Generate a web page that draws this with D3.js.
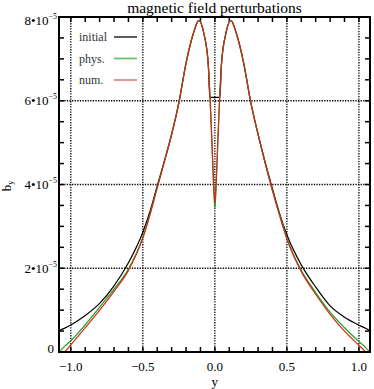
<!DOCTYPE html>
<html>
<head>
<meta charset="utf-8">
<script src="https://cdn.jsdelivr.net/npm/d3@7"></script>
<style>
body { margin: 0; background: #fff; }
text { font-family: "Liberation Serif", "DejaVu Serif", serif; }
</style>
</head>
<body>
<div id="container"></div>
<script>
const width = 374;
const height = 389;
const margin = { left: 59, right: 4, top: 17, bottom: 37 };

// y positions (x axis) shared by all series
const ys = [-1.08, -1.042, -1.0, -0.9, -0.8, -0.7, -0.6, -0.5, -0.45, -0.4, -0.35, -0.3, -0.25, -0.2, -0.15, -0.111,
    -0.076, -0.046, -0.035, -0.02, -0.01, 0, 0.01, 0.02, 0.035, 0.046, 0.076, 0.111, 0.15, 0.2, 0.25, 0.3, 0.35,
    0.4, 0.45, 0.5, 0.6, 0.7, 0.8, 0.9, 1.0, 1.049, 1.075];
// b_y in units of 1e-5
const initial = [0.51, 0.57, 0.645, 0.87, 1.16, 1.58, 2.13, 2.86, 3.36, 3.97, 4.57, 5.2, 5.95, 6.9, 7.6, 7.92,
    7.6, 6.88, 6.08, 6.08, 6.08, 6.08, 6.08, 6.08, 6.08, 6.88, 7.6, 7.92, 7.6, 6.9, 5.95, 5.2, 4.52,
    3.9, 3.3, 2.8, 2.08, 1.55, 1.1, 0.83, 0.64, 0.56, 0.51];
const phys = [0, 0.14, 0.27, 0.65, 1.07, 1.5, 1.98, 2.74, 3.3, 3.93, 4.55, 5.2, 5.95, 6.9, 7.6, 7.92,
    7.6, 6.88, 6.2, 4.95, 4.05, 3.42, 4.05, 4.95, 6.2, 6.88, 7.6, 7.92, 7.6, 6.9, 5.95, 5.2, 4.5,
    3.86, 3.27, 2.72, 1.95, 1.42, 0.95, 0.58, 0.25, 0.1, 0];
const num = [null, 0, 0.17, 0.58, 1.0, 1.45, 1.95, 2.72, 3.28, 3.92, 4.55, 5.2, 5.95, 6.9, 7.6, 7.92,
    7.6, 6.88, 6.2, 5.0, 4.15, 3.55, 4.15, 5.0, 6.2, 6.88, 7.6, 7.92, 7.6, 6.9, 5.95, 5.2, 4.5,
    3.85, 3.25, 2.7, 1.92, 1.38, 0.9, 0.5, 0.16, 0, null];

const xTicks = [-1.0, -0.5, 0.0, 0.5, 1.0];
const xTickLabels = ["\u22121.0", "\u22120.5", "0.0", "0.5", "1.0"];
const yTicks = [0, 2, 4, 6, 8];

const series = [
    { name: "initial", values: initial, color: "#000", legend: "#4a4a4a" },
    { name: "phys.", values: phys, color: "#1e9e1e", legend: "#66c266" },
    { name: "num.", values: num, color: "#d42a1a", legend: "#e48a84" },
];

const x = d3.scaleLinear().domain([-1.082, 1.077]).range([margin.left, width - margin.right]);
const y = d3.scaleLinear().domain([0, 8]).range([height - margin.bottom, margin.top]);

const svg = d3.select("#container")
    .append("svg")
    .attr("width", width)
    .attr("height", height);

svg.append("clipPath")
    .attr("id", "clip")
    .append("rect")
    .attr("x", x.range()[0])
    .attr("y", y.range()[1])
    .attr("width", x.range()[1] - x.range()[0])
    .attr("height", y.range()[0] - y.range()[1]);

// dotted grid
svg.append("g")
    .selectAll("line")
    .data(xTicks)
    .enter()
    .append("line")
    .attr("x1", (d) => x(d))
    .attr("x2", (d) => x(d))
    .attr("y1", y(0))
    .attr("y2", y(8))
    .attr("stroke", "#000")
    .attr("stroke-width", 1.3)
    .attr("stroke-dasharray", "1.3,1.3");
svg.append("g")
    .selectAll("line")
    .data(yTicks.filter((d) => d > 0 && d < 8))
    .enter()
    .append("line")
    .attr("x1", x.range()[0])
    .attr("x2", x.range()[1])
    .attr("y1", (d) => y(d))
    .attr("y2", (d) => y(d))
    .attr("stroke", "#000")
    .attr("stroke-width", 1.3)
    .attr("stroke-dasharray", "1.3,1.3");

// minor ticks, inward on all four sides
const xMinor = d3.range(-10, 11).map((i) => i / 10);
const yMinor = d3.range(0, 17).map((i) => i / 2);
const ticks = svg.append("g").attr("stroke", "#000").attr("stroke-width", 1.5);
xMinor.forEach((t) => {
    ticks.append("line").attr("x1", x(t)).attr("x2", x(t)).attr("y1", y(0)).attr("y2", y(0) - 5);
    ticks.append("line").attr("x1", x(t)).attr("x2", x(t)).attr("y1", y(8)).attr("y2", y(8) + 5);
});
yMinor.forEach((t) => {
    ticks.append("line").attr("x1", x.range()[0]).attr("x2", x.range()[0] + 5).attr("y1", y(t)).attr("y2", y(t));
    ticks.append("line").attr("x1", x.range()[1]).attr("x2", x.range()[1] - 5).attr("y1", y(t)).attr("y2", y(t));
});

// curves
const line = d3.line()
    .defined((d) => d[1] !== null)
    .x((d) => x(d[0]))
    .y((d) => y(d[1]))
    .curve(d3.curveMonotoneX);
svg.append("g")
    .attr("clip-path", "url(#clip)")
    .selectAll("path")
    .data(series)
    .enter()
    .append("path")
    .attr("fill", "none")
    .attr("stroke", (d) => d.color)
    .attr("stroke-width", 1.2)
    .attr("d", (d) => line(ys.map((v, i) => [v, d.values[i]])));

// frame
svg.append("rect")
    .attr("x", x.range()[0])
    .attr("y", y.range()[1])
    .attr("width", x.range()[1] - x.range()[0])
    .attr("height", y.range()[0] - y.range()[1])
    .attr("fill", "none")
    .attr("stroke", "#000")
    .attr("stroke-width", 2);

// legend
const legend = svg.append("g");
series.forEach((s, i) => {
    const ly = 37 + i * 21.5;
    legend.append("text")
        .attr("x", 79)
        .attr("y", ly + 4)
        .attr("font-size", 12)
        .attr("fill", "#333")
        .text(s.name);
    legend.append("line")
        .attr("x1", 114)
        .attr("x2", 137)
        .attr("y1", ly)
        .attr("y2", ly)
        .attr("stroke", s.legend)
        .attr("stroke-width", 1.8);
});

// title
svg.append("text")
    .attr("x", (x.range()[0] + x.range()[1]) / 2)
    .attr("y", 13)
    .attr("text-anchor", "middle")
    .attr("font-size", 15.5)
    .text("magnetic field perturbations");

// x tick labels
svg.append("g")
    .selectAll("text")
    .data(xTicks)
    .enter()
    .append("text")
    .attr("x", (d) => x(d))
    .attr("y", 371)
    .attr("text-anchor", "middle")
    .attr("font-size", 13)
    .text((d, i) => xTickLabels[i]);
svg.append("text")
    .attr("x", x(0))
    .attr("y", 386)
    .attr("text-anchor", "middle")
    .attr("font-size", 13)
    .text("y");

// y tick labels
yTicks.forEach((t) => {
    let cy = y(t) + 4.5;
    if (t === 8) cy += 3;
    if (t === 0) {
        svg.append("text").attr("x", 54).attr("y", cy - 4).attr("text-anchor", "end")
            .attr("font-size", 13).text("0");
        return;
    }
    const tx = svg.append("text").attr("x", 57).attr("y", cy).attr("text-anchor", "end").attr("font-size", 13);
    tx.append("tspan").text(t + "\u202210");
    tx.append("tspan").attr("font-size", 8).attr("dy", -6).text("\u22125");
});

// y axis title
const yt = svg.append("text")
    .attr("transform", "translate(11,186) rotate(-90)")
    .attr("text-anchor", "middle")
    .attr("font-size", 13);
yt.append("tspan").text("b");
yt.append("tspan").attr("font-size", 8).attr("dy", 2).text("y");
</script>
</body>
</html>
